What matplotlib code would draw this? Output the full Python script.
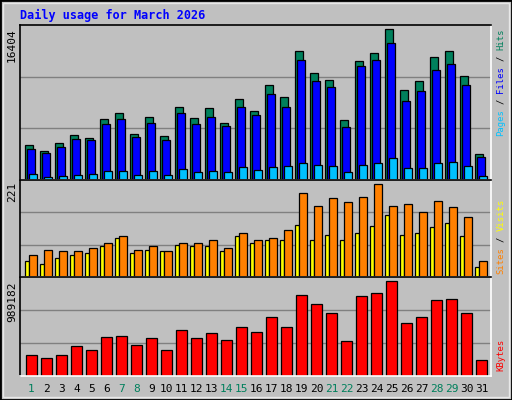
import matplotlib
matplotlib.use("Agg")
import matplotlib.pyplot as plt
import numpy as np
from matplotlib.patches import Rectangle

days = list(range(1, 32))
day_labels = [str(d) for d in days]
weekend_days = [1, 7, 8, 14, 15, 21, 22, 28, 29]

hits = [3822, 3154, 4045, 4936, 4602, 6606, 7274, 5047, 6828, 4824, 7942, 6717, 7830, 6160, 8832, 7496,
        10280, 9055, 14065, 11616, 10836, 6494, 12952, 13842, 16404, 9834, 10725, 13397, 14065, 11281, 2820]
files = [3377, 2932, 3600, 4490, 4379, 6049, 6606, 4713, 6160, 4379, 7274, 6049, 6828, 5826, 7942, 7051,
         9389, 7942, 13063, 10725, 10057, 5715, 12395, 13063, 14844, 8610, 9723, 11950, 12618, 10280, 2486]
pages = [705, 371, 482, 594, 705, 928, 928, 594, 928, 594, 1150, 816, 928, 816, 1373, 1039,
         1373, 1484, 1818, 1596, 1484, 816, 1596, 1818, 2375, 1262, 1262, 1818, 1930, 1484, 482]
sites = [39, 32, 46, 53, 56, 75, 94, 58, 65, 61, 77, 73, 73, 63, 97, 82,
         87, 87, 123, 89, 99, 87, 104, 121, 147, 99, 104, 118, 128, 97, 25]
visits = [53, 65, 63, 61, 68, 80, 97, 65, 73, 63, 82, 80, 89, 70, 104, 87,
          94, 113, 200, 168, 188, 178, 190, 221, 168, 173, 154, 180, 166, 144, 39]
kbytes = [220210, 187720, 220210, 306850, 274360, 404320, 415150, 317680, 393490, 274360, 480130,
          393490, 447640, 371830, 512620, 458470, 610090, 512620, 837520, 750880, 653410, 361000,
          826690, 859180, 989182, 555940, 610090, 794200, 805030, 653410, 166060]

W, H = 512, 400
BG = "#C0C0C0"
fig = plt.figure(figsize=(W / 100, H / 100), dpi=100, facecolor=BG)
fig.patches.append(Rectangle((0, 0), 1, 1, transform=fig.transFigure, fill=False,
                             edgecolor="black", linewidth=2))
fig.patches.append(Rectangle((3 / W, 3 / H), 1 - 6 / W, 1 - 6 / H, transform=fig.transFigure,
                             fill=False, edgecolor="#E8E8E8", linewidth=1))

mono = "DejaVu Sans Mono"
x = np.arange(len(days)) * 15.0


def make_ax(top, bottom):
    ax = fig.add_axes([20 / W, 1 - bottom / H, 471 / W, (bottom - top) / H])
    ax.set_facecolor(BG)
    ax.set_xlim(0, 471)
    ax.set_xticks([])
    ax.set_yticks([])
    for s in ["top", "left"]:
        ax.spines[s].set_color("black")
    for s in ["bottom", "right"]:
        ax.spines[s].set_color("white")
    for sp in ax.spines.values():
        sp.set_linewidth(1.2)
    return ax


def grid(ax, ymax):
    for f in (1 / 3, 2 / 3):
        ax.axhline(ymax * f, color="#808080", lw=1, zorder=0)


kw = dict(edgecolor="black", linewidth=0.9, align="edge")

ax1 = make_ax(25, 180)
y1 = 16850
ax1.set_ylim(0, y1)
grid(ax1, y1)
ax1.bar(x + 5.3, hits, width=7.3, color="#00805C", **kw)
ax1.bar(x + 7.0, files, width=7.7, color="#0000FF", **kw)
ax1.bar(x + 9.3, pages, width=7.3, color="#00C0FF", **kw)

ax2 = make_ax(180, 277)
y2 = 231
ax2.set_ylim(0, y2)
grid(ax2, y2)
ax2.bar(x + 5.3, sites, width=4.0, color="#FFFF00", **kw)
ax2.bar(x + 9.3, visits, width=7.3, color="#FF8000", **kw)

ax3 = make_ax(277, 376)
y3 = 1029000
ax3.set_ylim(0, y3)
grid(ax3, y3)
ax3.bar(x + 6.3, kbytes, width=10.3, color="#FF0000", **kw)

for i, lab in enumerate(day_labels):
    col = "#00805C" if days[i] in weekend_days else "black"
    fig.text((20 + x[i] + 11.5) / W, 1 - 389 / H, lab, color=col, fontsize=8, family=mono,
             ha="center", va="center")

fig.text(20 / W, 1 - 15 / H, "Daily usage for March 2026", color="#0000FF", fontsize=8.5,
         family=mono, weight="bold", ha="left", va="center")

fig.text(12 / W, 1 - 28 / H, str(max(hits)), rotation=90, fontsize=8, family=mono, ha="center", va="top")
fig.text(12 / W, 1 - 182 / H, str(max(visits)), rotation=90, fontsize=8, family=mono, ha="center", va="top")
fig.text(12 / W, 1 - 282 / H, str(max(kbytes)), rotation=90, fontsize=8, family=mono, ha="center", va="top")


def right_label(segs, top_px, fs=6.4):
    charw = 0.602 * fs * 100 / 72
    n = sum(len(s) for s, _ in segs)
    pos = top_px + n * charw
    for s, c in segs:
        t = s.strip()
        lead = len(s) - len(s.lstrip())
        fig.text(501 / W, 1 - (pos - lead * charw) / H, t, rotation=90, color=c, fontsize=fs,
                 family=mono, ha="center", va="bottom")
        pos -= len(s) * charw


right_label([("Pages", "#00C0FF"), (" / ", "#000000"), ("Files", "#0000FF"), (" / ", "#000000"),
             ("Hits", "#00805C")], 29)
right_label([("Sites", "#FF8000"), (" / ", "#000000"), ("Visits", "#FFFF00")], 199)
right_label([("KBytes", "#FF0000")], 339)

fig.savefig("out.png", dpi=100, facecolor=BG)
